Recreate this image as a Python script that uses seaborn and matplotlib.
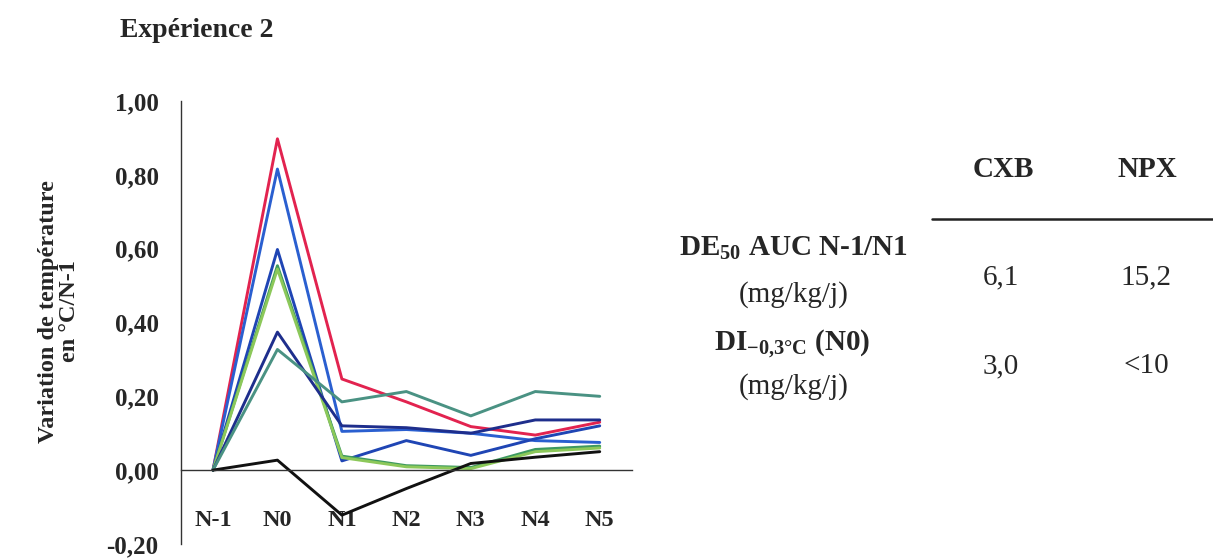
import numpy as np
import pandas as pd
import matplotlib
matplotlib.use("Agg")
import matplotlib.pyplot as plt
import seaborn as sns
from matplotlib.ticker import FixedLocator, FuncFormatter

# days of measurement
days = ["N-1", "N0", "N1", "N2", "N3", "N4", "N5"]

# temperature variation curves (°C vs N-1)
red_line = [0, 0.898, 0.247, 0.185, 0.118, 0.095, 0.130]
blue_line = [0, 0.816, 0.105, 0.110, 0.100, 0.080, 0.075]
darkblue_line = [0, 0.598, 0.025, 0.080, 0.040, 0.085, 0.120]
green_line = [0, 0.554, 0.038, 0.012, 0.007, 0.056, 0.065]
lightgreen_line = [0, 0.545, 0.034, 0.009, 0.004, 0.050, 0.060]
navy_line = [0, 0.374, 0.120, 0.115, 0.100, 0.136, 0.136]
teal_line = [0, 0.327, 0.185, 0.213, 0.147, 0.213, 0.200]
black_line = [0, 0.027, -0.122, -0.050, 0.018, 0.035, 0.050]

series = {
    "rouge": red_line,
    "bleu": blue_line,
    "bleu fonce": darkblue_line,
    "vert": green_line,
    "vert clair": lightgreen_line,
    "marine": navy_line,
    "sarcelle": teal_line,
    "noir": black_line,
}
colors = {
    "rouge": "#e2234f",
    "bleu": "#2a5fd0",
    "bleu fonce": "#1f45b4",
    "vert": "#3d9960",
    "vert clair": "#8cc85a",
    "marine": "#1e2e8c",
    "sarcelle": "#4a9283",
    "noir": "#111111",
}

# table values
table_cols = ["CXB", "NPX"]
de50_vals = ["6,1", "15,2"]
di_vals = ["3,0", "<10"]

rows = []
for name, vals in series.items():
    for d, v in zip(days, vals):
        rows.append({"jour": d, "variation": v, "serie": name})
df = pd.DataFrame(rows)

sns.set_style("white")
plt.rcParams["font.family"] = ["Liberation Serif", "DejaVu Serif"]
plt.rcParams["mathtext.fontset"] = "custom"
plt.rcParams["mathtext.bf"] = "Liberation Serif:bold"
plt.rcParams["mathtext.rm"] = "Liberation Serif"
plt.rcParams["mathtext.default"] = "bf"

fig = plt.figure(figsize=(12.13, 5.59), dpi=100)
ax = fig.add_axes([0.149, 0.027, 0.372, 0.792])

sns.lineplot(data=df, x="jour", y="variation", hue="serie", palette=colors,
             linewidth=2.1, legend=False, ax=ax, sort=False)

ax.set_ylim(-0.2, 1.0)
ax.set_xlim(-0.5, len(days) - 0.5)
for s in ["top", "right"]:
    ax.spines[s].set_visible(False)
ax.spines["bottom"].set_position(("data", 0))
ax.spines["left"].set_color("#333333")
ax.spines["bottom"].set_color("#333333")
ax.spines["left"].set_linewidth(1.0)
ax.spines["bottom"].set_linewidth(1.0)

ax.set_yticks(np.arange(-0.2, 1.01, 0.2))
ax.yaxis.set_major_formatter(FuncFormatter(lambda v, p: f"{v:.2f}".replace(".", ",").replace("-0,00", "0,00")))
ax.tick_params(axis="y", direction="out", length=7, width=1, color="#333333",
               labelsize=18, pad=9)
for t in ax.get_yticklabels():
    t.set_fontweight("bold")

ax.set_xticks(range(len(days)))
ax.set_xticklabels(days, fontsize=17.5, fontweight="bold")
ax.xaxis.set_minor_locator(FixedLocator(np.arange(0.5, len(days), 1.0)))
ax.tick_params(axis="x", which="major", length=0, pad=29)
ax.tick_params(axis="x", which="minor", direction="out", length=5, width=1, color="#333333")
ax.set_xlabel("")
ax.set_ylabel("Variation de température\nen °C/N-1", fontsize=17.5, fontweight="bold",
              linespacing=1.0)
ax.yaxis.set_label_coords(-0.224, 0.525)
ax.grid(False)

fig.text(0.099, 0.945, "Expérience 2", fontsize=20, fontweight="bold", va="center", ha="left")

# table on the right
fs = 21
fig.text(0.827, 0.696, table_cols[0], fontsize=fs, fontweight="bold", ha="center", va="center")
fig.text(0.946, 0.696, table_cols[1], fontsize=fs, fontweight="bold", ha="center", va="center")
fig.add_artist(plt.Line2D([0.768, 1.0], [0.608, 0.608], color="#222222", linewidth=1.8))

fig.text(0.654, 0.556, r"DE$_{50}$ AUC N-1/N1", fontsize=fs, fontweight="bold", ha="center", va="center")
fig.text(0.654, 0.474, "(mg/kg/j)", fontsize=fs, ha="center", va="center")
fig.text(0.825, 0.503, de50_vals[0], fontsize=fs, ha="center", va="center")
fig.text(0.945, 0.503, de50_vals[1], fontsize=fs, ha="center", va="center")

fig.text(0.653, 0.385, r"DI$_{-0{,}3°C}$ (N0)", fontsize=fs, fontweight="bold", ha="center", va="center")
fig.text(0.654, 0.308, "(mg/kg/j)", fontsize=fs, ha="center", va="center")
fig.text(0.825, 0.345, di_vals[0], fontsize=fs, ha="center", va="center")
fig.text(0.945, 0.345, di_vals[1], fontsize=fs, ha="center", va="center")

fig.savefig("out.png", dpi=100)
